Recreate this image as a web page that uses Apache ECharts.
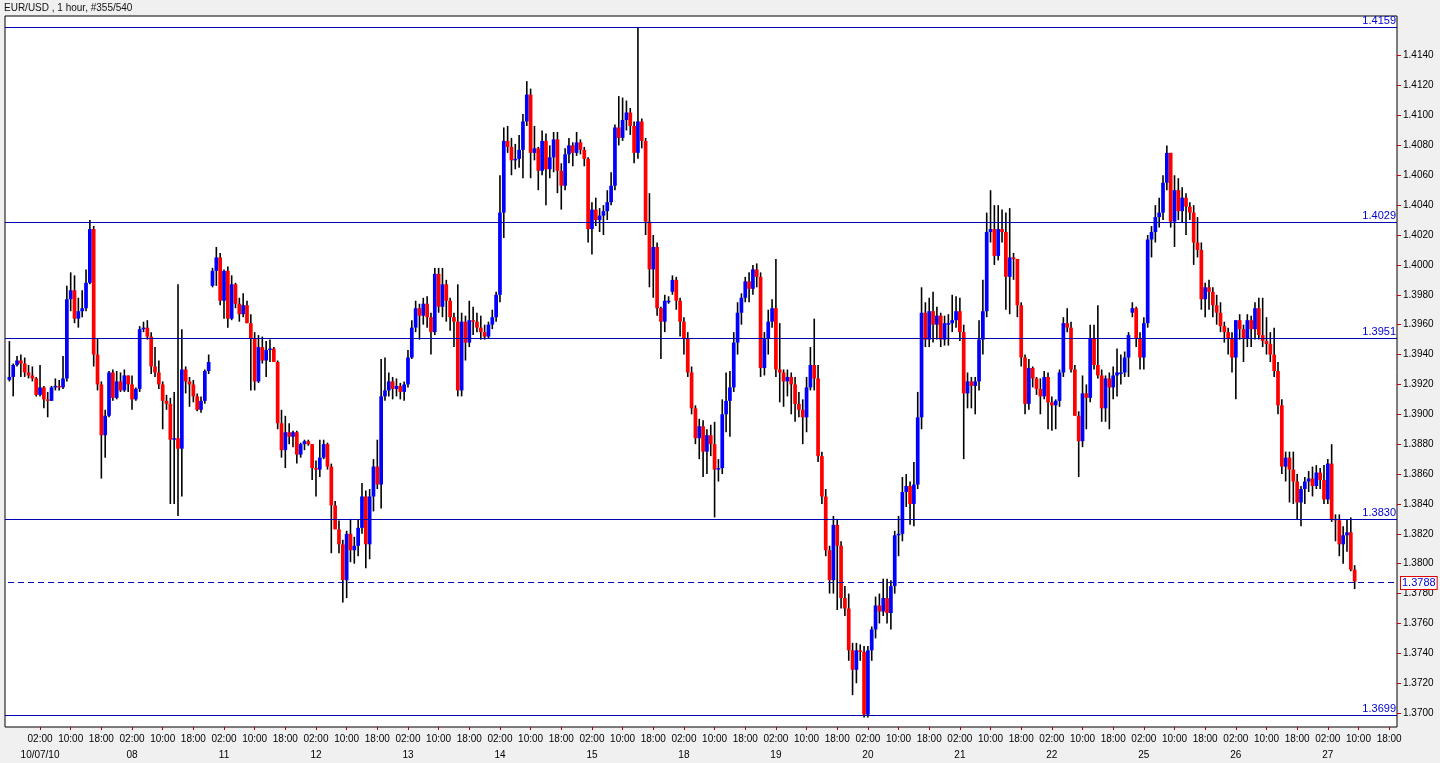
<!DOCTYPE html>
<html><head><meta charset="utf-8">
<script src="https://cdn.jsdelivr.net/npm/echarts@6/dist/echarts.min.js"></script>
<style>html,body{margin:0;padding:0;background:#f0f0f0;}#chart{width:1440px;height:763px;}</style>
</head><body><div id="chart"></div>
<script>
// ---- tick labels ----
const dayLabels = ['10/07/10','08','11','12','13','14','15','18','19','20','21','22','25','26','27'];
const hourLabels = ['02:00','10:00','18:00'];
const hourOffsets = [2,10,18];
const yTicks = [1.3700,1.3720,1.3740,1.3760,1.3780,1.3800,1.3820,1.3840,1.3860,1.3880,1.3900,1.3920,1.3940,1.3960,1.3980,1.4000,1.4020,1.4040,1.4060,1.4080,1.4100,1.4120,1.4140];
// ---- horizontal level lines ----
const levelLines = [1.4159,1.4029,1.3951,1.3830,1.3699];
const lastPrice = 1.3788;
// ---- hourly candles [open, high, low, close], one array per trading week ----
const weekStartHours = [-6, 47, 167, 287];
const week1 = [
[1.3923,1.3949,1.3922,1.3925],[1.3925,1.3934,1.3912,1.3933],[1.3933,1.3939,1.3932,1.3936],[1.3936,1.3940,1.3925,1.3934],
[1.3934,1.3938,1.3925,1.3928],[1.3928,1.3933,1.3924,1.3926],[1.3926,1.3932,1.3922,1.3924],[1.3924,1.3925,1.3912,1.3913],
[1.3913,1.3933,1.3912,1.3918],[1.3918,1.3919,1.3904,1.3910],[1.3910,1.3915,1.3898,1.3909],[1.3909,1.3919,1.3909,1.3918],
[1.3918,1.3924,1.3916,1.3919],[1.3919,1.3923,1.3916,1.3918],[1.3918,1.3939,1.3917,1.3924],[1.3924,1.3986,1.3922,1.3977],
[1.3977,1.3995,1.3969,1.3983],[1.3983,1.3993,1.3961,1.3964],[1.3964,1.3978,1.3958,1.3969],[1.3969,1.3983,1.3965,1.3971],
[1.3971,1.3997,1.3969,1.3988],[1.3988,1.4030,1.3987,1.4024],[1.4024,1.4026,1.3932,1.3940],[1.3940,1.3951,1.3916,1.3920],
[1.3920,1.3922,1.3857,1.3886],[1.3886,1.3903,1.3871,1.3899],[1.3899,1.3929,1.3898,1.3928],[1.3928,1.3930,1.3909,1.3911],
[1.3911,1.3929,1.3910,1.3922],[1.3922,1.3928,1.3915,1.3916],[1.3916,1.3930,1.3915,1.3926],[1.3926,1.3926,1.3915,1.3920],
[1.3920,1.3926,1.3903,1.3910],[1.3910,1.3918,1.3909,1.3917],[1.3917,1.3959,1.3915,1.3957],[1.3957,1.3962,1.3955,1.3958],
[1.3958,1.3963,1.3950,1.3952],[1.3952,1.3955,1.3927,1.3932],[1.3932,1.3945,1.3925,1.3928],[1.3928,1.3936,1.3917,1.3920],
[1.3920,1.3922,1.3890,1.3909],[1.3909,1.3913,1.3903,1.3907],[1.3907,1.3911,1.3840,1.3883],[1.3883,1.3915,1.3840,1.3884],
[1.3884,1.3987,1.3832,1.3877],[1.3877,1.3957,1.3845,1.3930],[1.3930,1.3932,1.3914,1.3922],[1.3922,1.3925,1.3905,1.3920],
[1.3920,1.3923,1.3908,1.3912],[1.3912,1.3914,1.3902,1.3903],[1.3903,1.3912,1.3901,1.3909],[1.3909,1.3930,1.3907,1.3929],
[1.3929,1.3940,1.3927,1.3935]
];
const week2 = [
[1.3986,1.3998,1.3985,1.3996],[1.3996,1.4012,1.3986,1.4005],[1.4005,1.4008,1.3973,1.3976],[1.3976,1.3997,1.3964,1.3996],
[1.3996,1.3999,1.3958,1.3964],[1.3964,1.3993,1.3963,1.3987],[1.3987,1.3988,1.3971,1.3974],[1.3974,1.3978,1.3962,1.3967],
[1.3967,1.3981,1.3965,1.3973],[1.3973,1.3976,1.3961,1.3961],[1.3961,1.3967,1.3916,1.3951],[1.3951,1.3955,1.3916,1.3922],
[1.3922,1.3953,1.3921,1.3945],[1.3945,1.3952,1.3934,1.3936],[1.3936,1.3949,1.3925,1.3943],[1.3943,1.3950,1.3935,1.3944],
[1.3944,1.3945,1.3935,1.3935],[1.3935,1.3936,1.3890,1.3894],[1.3894,1.3903,1.3871,1.3876],[1.3876,1.3899,1.3864,1.3888],
[1.3888,1.3894,1.3880,1.3885],[1.3885,1.3889,1.3878,1.3888],[1.3888,1.3889,1.3867,1.3873],[1.3873,1.3881,1.3871,1.3880],
[1.3880,1.3883,1.3876,1.3882],[1.3882,1.3883,1.3879,1.3880],[1.3880,1.3880,1.3856,1.3864],[1.3864,1.3869,1.3845,1.3863],
[1.3863,1.3883,1.3858,1.3871],[1.3871,1.3883,1.3870,1.3880],[1.3880,1.3881,1.3863,1.3865],[1.3865,1.3867,1.3807,1.3839],
[1.3839,1.3842,1.3823,1.3823],[1.3823,1.3829,1.3807,1.3813],[1.3813,1.3816,1.3774,1.3789],
[1.3789,1.3822,1.3777,1.3820],[1.3820,1.3830,1.3801,1.3809],[1.3809,1.3818,1.3800,1.3812],[1.3812,1.3830,1.3805,1.3824],
[1.3824,1.3854,1.3820,1.3845],[1.3845,1.3849,1.3797,1.3813],[1.3813,1.3850,1.3803,1.3845],[1.3845,1.3870,1.3835,1.3865],
[1.3865,1.3883,1.3850,1.3853],[1.3853,1.3937,1.3837,1.3912],[1.3912,1.3938,1.3909,1.3916],[1.3916,1.3928,1.3912,1.3922],
[1.3922,1.3925,1.3910,1.3917],[1.3917,1.3924,1.3912,1.3919],[1.3919,1.3921,1.3910,1.3915],[1.3915,1.3922,1.3909,1.3920],
[1.3920,1.3943,1.3918,1.3938],[1.3938,1.3963,1.3937,1.3958],[1.3958,1.3976,1.3955,1.3971],[1.3971,1.3974,1.3950,1.3966],
[1.3966,1.3978,1.3960,1.3974],[1.3974,1.3979,1.3958,1.3965],[1.3965,1.3968,1.3940,1.3955],[1.3955,1.3998,1.3953,1.3994],
[1.3994,1.3998,1.3968,1.3972],[1.3972,1.3998,1.3965,1.3987],[1.3987,1.3990,1.3962,1.3976],[1.3976,1.3978,1.3956,1.3965],
[1.3965,1.3968,1.3945,1.3962],[1.3962,1.3987,1.3912,1.3916],[1.3916,1.3968,1.3912,1.3962],[1.3962,1.3966,1.3936,1.3948],
[1.3948,1.3976,1.3945,1.3963],[1.3963,1.3972,1.3953,1.3962],[1.3962,1.3968,1.3955,1.3958],[1.3958,1.3966,1.3950,1.3955],
[1.3955,1.3960,1.3950,1.3952],[1.3952,1.3962,1.3951,1.3960],[1.3960,1.3970,1.3957,1.3965],[1.3965,1.3982,1.3962,1.3980],
[1.3980,1.4060,1.3975,1.4035],[1.4035,1.4092,1.4018,1.4083],[1.4083,1.4093,1.4075,1.4079],[1.4079,1.4085,1.4060,1.4070],
[1.4070,1.4081,1.4064,1.4071],[1.4071,1.4087,1.4065,1.4077],[1.4077,1.4101,1.4058,1.4096],[1.4096,1.4123,1.4093,1.4114],
[1.4114,1.4118,1.4058,1.4075],[1.4075,1.4093,1.4070,1.4078],[1.4078,1.4079,1.4050,1.4063],[1.4063,1.4090,1.4060,1.4083],
[1.4083,1.4088,1.4040,1.4064],[1.4064,1.4080,1.4058,1.4072],[1.4072,1.4089,1.4062,1.4084],[1.4084,1.4089,1.4048,1.4063],
[1.4063,1.4068,1.4037,1.4053],[1.4053,1.4078,1.4050,1.4074],[1.4074,1.4085,1.4068,1.4080],[1.4080,1.4082,1.4066,1.4075],
[1.4075,1.4089,1.4073,1.4082],[1.4082,1.4084,1.4074,1.4077],[1.4077,1.4079,1.4066,1.4071],[1.4071,1.4072,1.4015,1.4024],
[1.4024,1.4042,1.4007,1.4037],[1.4037,1.4045,1.4026,1.4030],[1.4030,1.4038,1.4022,1.4033],[1.4033,1.4040,1.4020,1.4036],
[1.4036,1.4050,1.4030,1.4042],[1.4042,1.4062,1.4040,1.4053],[1.4053,1.4094,1.4050,1.4092],[1.4092,1.4113,1.4080,1.4085],
[1.4085,1.4112,1.4083,1.4097],[1.4097,1.4110,1.4090,1.4102],[1.4102,1.4105,1.4087,1.4093],[1.4093,1.4096,1.4068,1.4075],
[1.4075,1.4159,1.4071,1.4096],[1.4096,1.4098,1.4078,1.4083],[1.4083,1.4085,1.4020,1.4029],[1.4029,1.4048,1.3985,1.3997],
[1.3997,1.4020,1.3978,1.4012],[1.4012,1.4015,1.3966,1.3971],[1.3971,1.3972,1.3937,1.3962],[1.3962,1.3980,1.3955,1.3976],
[1.3976,1.3979,1.3974,1.3976]
];
const week3 = [
[1.3982,1.3993,1.3980,1.3990],[1.3990,1.3992,1.3970,1.3976],[1.3976,1.3978,1.3952,1.3962],[1.3962,1.3965,1.3940,1.3951],
[1.3951,1.3955,1.3925,1.3928],[1.3928,1.3932,1.3900,1.3904],[1.3904,1.3906,1.3880,1.3884],[1.3884,1.3897,1.3870,1.3892],
[1.3892,1.3896,1.3858,1.3875],[1.3875,1.3890,1.3860,1.3886],[1.3886,1.3893,1.3872,1.3880],[1.3880,1.3895,1.3831,1.3863],
[1.3863,1.3870,1.3855,1.3864],[1.3864,1.3910,1.3860,1.3900],[1.3900,1.3928,1.3888,1.3909],[1.3909,1.3929,1.3885,1.3918],
[1.3918,1.3955,1.3915,1.3948],[1.3948,1.3975,1.3940,1.3968],[1.3968,1.3981,1.3960,1.3978],[1.3978,1.3992,1.3975,1.3989],
[1.3989,1.3995,1.3975,1.3984],[1.3984,1.4000,1.3980,1.3997],[1.3997,1.4001,1.3985,1.3992],[1.3992,1.3995,1.3925,1.3931],
[1.3931,1.3955,1.3926,1.3951],[1.3951,1.3970,1.3940,1.3962],[1.3962,1.3977,1.3958,1.3971],[1.3971,1.4004,1.3925,1.3930],
[1.3930,1.3961,1.3908,1.3928],[1.3928,1.3930,1.3905,1.3922],[1.3922,1.3930,1.3912,1.3925],[1.3925,1.3928,1.3900,1.3920],
[1.3920,1.3925,1.3895,1.3907],[1.3907,1.3915,1.3898,1.3903],[1.3903,1.3910,1.3880,1.3898],[1.3898,1.3925,1.3888,1.3918],
[1.3918,1.3945,1.3916,1.3933],[1.3933,1.3964,1.3916,1.3924],[1.3924,1.3933,1.3868,1.3872],[1.3872,1.3875,1.3840,1.3845],
[1.3845,1.3850,1.3805,1.3809],[1.3809,1.3812,1.3780,1.3789],[1.3789,1.3832,1.3780,1.3826],[1.3826,1.3830,1.3769,1.3812],
[1.3812,1.3815,1.3770,1.3777],[1.3777,1.3785,1.3765,1.3770],[1.3770,1.3780,1.3735,1.3742],[1.3742,1.3747,1.3712,1.3729],
[1.3729,1.3747,1.3720,1.3742],[1.3742,1.3746,1.3735,1.3741],[1.3741,1.3745,1.3697,1.3699],[1.3699,1.3745,1.3697,1.3742],
[1.3742,1.3758,1.3735,1.3756],[1.3756,1.3778,1.3750,1.3772],[1.3772,1.3780,1.3760,1.3768],[1.3768,1.3790,1.3765,1.3777],
[1.3777,1.3790,1.3760,1.3767],[1.3767,1.3789,1.3756,1.3785],[1.3785,1.3822,1.3780,1.3819],[1.3819,1.3832,1.3805,1.3820],
[1.3820,1.3858,1.3815,1.3848],[1.3848,1.3860,1.3838,1.3852],[1.3852,1.3855,1.3826,1.3840],[1.3840,1.3868,1.3825,1.3853],
[1.3853,1.3915,1.3850,1.3898],[1.3898,1.3985,1.3890,1.3968],[1.3968,1.3975,1.3945,1.3950],[1.3950,1.3978,1.3945,1.3969],
[1.3969,1.3982,1.3948,1.3960],[1.3960,1.3972,1.3950,1.3966],[1.3966,1.3968,1.3945,1.3950],[1.3950,1.3966,1.3946,1.3961],
[1.3961,1.3967,1.3946,1.3961],[1.3961,1.3980,1.3955,1.3963],[1.3963,1.3979,1.3958,1.3969],[1.3969,1.3978,1.3949,1.3955],
[1.3955,1.3960,1.3870,1.3914],[1.3914,1.3928,1.3904,1.3922],[1.3922,1.3925,1.3904,1.3919],[1.3919,1.3925,1.3900,1.3922],
[1.3922,1.3963,1.3916,1.3950],[1.3950,1.3990,1.3940,1.3969],[1.3969,1.4035,1.3965,1.4022],[1.4022,1.4050,1.4015,1.4024],
[1.4024,1.4040,1.4000,1.4006],[1.4006,1.4040,1.4003,1.4024],[1.4024,1.4037,1.4015,1.4022],[1.4022,1.4035,1.3970,1.3992],
[1.3992,1.4038,1.3967,1.4005],[1.4005,1.4008,1.3990,1.4004],[1.4004,1.4004,1.3965,1.3973],[1.3973,1.3975,1.3932,1.3938],
[1.3938,1.3940,1.3900,1.3907],[1.3907,1.3937,1.3903,1.3931],[1.3931,1.3932,1.3918,1.3924],[1.3924,1.3925,1.3913,1.3917],
[1.3917,1.3924,1.3900,1.3912],[1.3912,1.3929,1.3910,1.3925],[1.3925,1.3928,1.3890,1.3908],[1.3908,1.3912,1.3889,1.3906],
[1.3906,1.3910,1.3890,1.3909],[1.3909,1.3930,1.3905,1.3928],[1.3928,1.3965,1.3925,1.3961],[1.3961,1.3971,1.3955,1.3958],
[1.3958,1.3962,1.3928,1.3930],[1.3930,1.3933,1.3899,1.3899],[1.3899,1.3902,1.3858,1.3882],[1.3882,1.3926,1.3878,1.3914],
[1.3914,1.3920,1.3890,1.3911],[1.3911,1.3960,1.3908,1.3951],[1.3951,1.3960,1.3930,1.3933],[1.3933,1.3973,1.3924,1.3926],
[1.3926,1.3930,1.3895,1.3904],[1.3904,1.3926,1.3895,1.3924],[1.3924,1.3928,1.3890,1.3918],[1.3918,1.3932,1.3910,1.3926],
[1.3926,1.3944,1.3912,1.3928],[1.3928,1.3940,1.3920,1.3928],[1.3928,1.3942,1.3925,1.3938],[1.3938,1.3955,1.3925,1.3953]
];
const week4 = [
[1.3968,1.3975,1.3965,1.3971],[1.3971,1.3972,1.3945,1.3951],[1.3951,1.3955,1.3930,1.3938],[1.3938,1.3965,1.3930,1.3961],
[1.3961,1.4020,1.3958,1.4017],[1.4017,1.4026,1.4005,1.4022],[1.4022,1.4040,1.4015,1.4032],[1.4032,1.4045,1.4025,1.4035],
[1.4035,1.4060,1.4030,1.4055],[1.4055,1.4080,1.4050,1.4075],[1.4075,1.4075,1.4025,1.4029],[1.4029,1.4060,1.4012,1.4050],
[1.4050,1.4058,1.4030,1.4036],[1.4036,1.4052,1.4028,1.4045],[1.4045,1.4048,1.4020,1.4039],[1.4039,1.4042,1.4030,1.4035],
[1.4035,1.4040,1.4000,1.4015],[1.4015,1.4032,1.4005,1.4010],[1.4010,1.4015,1.3970,1.3977],[1.3977,1.3988,1.3965,1.3985],
[1.3985,1.3990,1.3970,1.3982],[1.3982,1.3985,1.3965,1.3973],[1.3973,1.3980,1.3960,1.3968],[1.3968,1.3975,1.3955,1.3959],
[1.3959,1.3962,1.3948,1.3955],[1.3955,1.3958,1.3940,1.3951],[1.3951,1.3955,1.3928,1.3938],[1.3938,1.3963,1.3910,1.3963],
[1.3963,1.3967,1.3950,1.3957],[1.3957,1.3960,1.3935,1.3951],[1.3951,1.3967,1.3945,1.3963],[1.3963,1.3966,1.3945,1.3957],
[1.3957,1.3975,1.3950,1.3971],[1.3971,1.3978,1.3950,1.3953],[1.3953,1.3978,1.3945,1.3949],[1.3949,1.3965,1.3940,1.3947],
[1.3947,1.3955,1.3935,1.3940],[1.3940,1.3958,1.3925,1.3929],[1.3929,1.3935,1.3900,1.3906],[1.3906,1.3910,1.3860,1.3865],
[1.3865,1.3875,1.3855,1.3871],[1.3871,1.3875,1.3841,1.3863],[1.3863,1.3875,1.3840,1.3855],[1.3855,1.3860,1.3830,1.3841],
[1.3841,1.3852,1.3825,1.3850],[1.3850,1.3858,1.3840,1.3855],[1.3855,1.3862,1.3848,1.3857],[1.3857,1.3865,1.3845,1.3852],
[1.3852,1.3866,1.3850,1.3861],[1.3861,1.3864,1.3850,1.3856],[1.3856,1.3866,1.3840,1.3843],[1.3843,1.3870,1.3840,1.3867],
[1.3867,1.3880,1.3828,1.3830],[1.3830,1.3833,1.3815,1.3829],[1.3829,1.3833,1.3805,1.3813],[1.3813,1.3825,1.3800,1.3819],
[1.3819,1.3830,1.3808,1.3821],[1.3821,1.3831,1.3795,1.3796],[1.3796,1.3799,1.3783,1.3788]
];

const weeks = [week1, week2, week3, week4];
const rows = [];
weeks.forEach((wk, w) => wk.forEach((b, i) => rows.push([weekStartHours[w] + i, b[0], b[1], b[2], b[3]])));

const X_MIN = -7.14, X_MAX = 356.05;
const hourTickVals = [];
const dayTickVals = [];
dayLabels.forEach((d, j) => {
  hourOffsets.forEach(hh => { const v = j * 24 + hh; if (v <= X_MAX) hourTickVals.push(v); });
  dayTickVals.push(j * 24 + hourOffsets[0]);
});

const levelRows = levelLines.map(v => [0, v, 0]).concat([[0, lastPrice, 1]]);

const FONT = 'Liberation Sans, Arial, sans-serif';
const LEVEL_COLOR = '#0000b0';

function renderCandle(params, api) {
  const x = api.value(0), o = api.value(1), h = api.value(2), l = api.value(3), c = api.value(4);
  const pO = api.coord([x, o]), pC = api.coord([x, c]), pH = api.coord([x, h]), pL = api.coord([x, l]);
  const bw = api.size([1, 0])[0] * 0.97;
  const cx = pO[0];
  const top = Math.min(pO[1], pC[1]), bot = Math.max(pO[1], pC[1]);
  return {
    type: 'group',
    children: [
      { type: 'line', shape: { x1: cx, y1: pH[1], x2: cx, y2: pL[1] }, style: { stroke: '#000', lineWidth: 1.6 } },
      { type: 'rect', shape: { x: cx - bw / 2, y: top, width: bw, height: Math.max(bot - top, 1.5) },
        style: { fill: c >= o ? '#0000ff' : '#ff0000' } }
    ]
  };
}

function renderLevel(params, api) {
  const v = api.value(1), dashed = api.value(2) === 1;
  const cs = params.coordSys;
  const y = Math.round(api.coord([0, v])[1]) + 0.5;
  const x1 = cs.x, x2 = cs.x + cs.width;
  const children = [{
    type: 'line', shape: { x1: dashed ? x1 + 3 : x1, y1: y, x2: x2, y2: y },
    style: { stroke: LEVEL_COLOR, lineWidth: 1, lineDash: dashed ? [6, 4] : null }
  }];
  if (!dashed) {
    children.push({ type: 'text', x: x2 - 1, y: y - 1,
      style: { text: v.toFixed(4), fill: '#0000d0', font: '11px ' + FONT, align: 'right', verticalAlign: 'bottom' } });
  } else {
    children.push({ type: 'text', x: x2 + 4, y: y + 0.5,
      style: { text: v.toFixed(4), fill: '#0000d0', font: '11px ' + FONT, align: 'left', verticalAlign: 'middle',
        backgroundColor: '#fff', borderColor: '#e00000', borderWidth: 1, padding: [1, 1, 0, 1] } });
  }
  return { type: 'group', children };
}

const chart = echarts.init(document.getElementById('chart'));
chart.setOption({
  animation: false,
  backgroundColor: '#f0f0f0',
  title: { text: 'EUR/USD , 1 hour, #355/540', left: 4, top: 3, padding: 0,
    textStyle: { fontSize: 10, fontWeight: 'normal', color: '#111', fontFamily: FONT } },
  grid: { left: 5, right: 43, top: 16, bottom: 36, show: true, backgroundColor: '#fff', borderColor: '#000', borderWidth: 1 },
  xAxis: [
    {
      type: 'value', min: X_MIN, max: X_MAX,
      axisLine: { show: false, onZero: false }, splitLine: { show: false },
      axisTick: { show: true, customValues: hourTickVals, length: 3, lineStyle: { color: '#b00000' } },
      axisLabel: {
        customValues: hourTickVals, hideOverlap: false, showMinLabel: true, showMaxLabel: true,
        margin: 7, fontSize: 10, color: '#000', fontFamily: FONT,
        formatter: v => hourLabels[hourOffsets.indexOf(v - Math.floor(v / 24) * 24)]
      }
    },
    {
      type: 'value', min: X_MIN, max: X_MAX, position: 'bottom',
      axisLine: { show: false, onZero: false }, splitLine: { show: false }, axisTick: { show: false },
      axisLabel: {
        customValues: dayTickVals, hideOverlap: false, showMinLabel: true, showMaxLabel: true,
        margin: 23, fontSize: 10, color: '#000', fontFamily: FONT,
        formatter: v => dayLabels[Math.floor(v / 24)]
      }
    }
  ],
  yAxis: {
    type: 'value', position: 'right', min: 1.36907, max: 1.41666,
    axisLine: { show: false, onZero: false }, splitLine: { show: false },
    axisTick: { show: true, customValues: yTicks, length: 4, lineStyle: { color: '#cc0000' } },
    axisLabel: { customValues: yTicks, hideOverlap: false, showMinLabel: true, showMaxLabel: true,
      margin: 6, fontSize: 10, color: '#000', fontFamily: FONT, formatter: v => v.toFixed(4) }
  },
  series: [
    { type: 'custom', renderItem: renderCandle, data: rows, encode: { x: 0, y: [1, 2, 3, 4] }, clip: true, silent: true },
    { type: 'custom', renderItem: renderLevel, data: levelRows, encode: { x: 0, y: 1 }, clip: false, silent: true, z: 5 }
  ]
});
</script></body></html>
